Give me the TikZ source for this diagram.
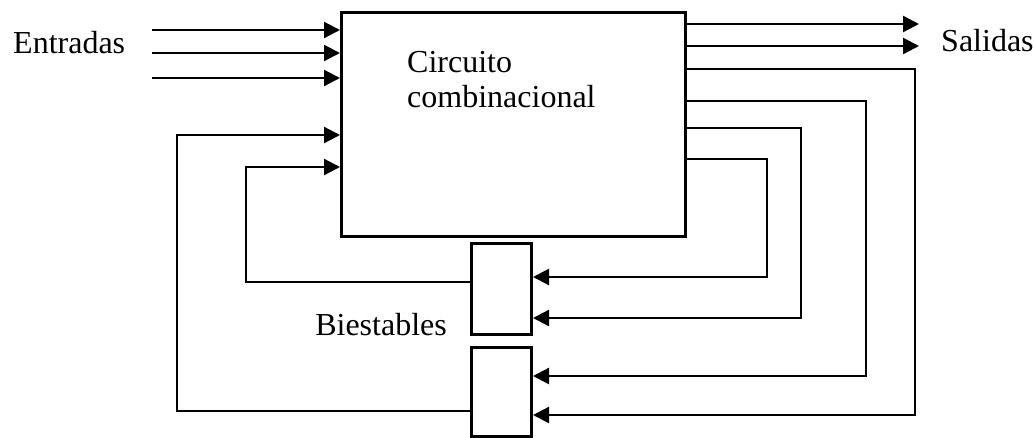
\documentclass[tikz,border=0pt]{standalone}
\usepackage{fontspec}
\setmainfont{Liberation Serif}
\usetikzlibrary{arrows.meta}
\begin{document}
\begin{tikzpicture}[x=1pt,y=-1pt,
  blk/.style={draw, line width=3pt, inner sep=0pt, anchor=north west},
  arr/.style={line width=2.3pt, -{Triangle[length=16pt,width=16pt]}},
  lbl/.style={inner sep=0pt, font=\fontsize{32}{35}\selectfont}]
\useasboundingbox (0,0) rectangle (1035,437);
% blocks
\node[blk, minimum width=344pt, minimum height=224pt] (main) at (340,11) {};
\node[blk, minimum width=60pt, minimum height=91pt] (b1) at (470,242) {};
\node[blk, minimum width=60pt, minimum height=89pt] (b2) at (470,346) {};
% labels
\node[lbl, anchor=base west] (ent) at (13,53) {Entradas};
\node[lbl, anchor=base west] (sal) at (941,51) {Salidas};
\node[lbl, anchor=base west] (cc1) at (407,72) {Circuito};
\node[lbl, anchor=base west] (cc2) at (407,107) {combinacional};
\node[lbl, anchor=base east] (bie) at (447,335) {Biestables};
% inputs
\coordinate (i1) at (152,30);
\coordinate (i2) at (152,53);
\coordinate (i3) at (152,78);
\draw[arr] (i1) -- (main.west |- i1);
\draw[arr] (i2) -- (main.west |- i2);
\draw[arr] (i3) -- (main.west |- i3);
% outputs
\coordinate (o1) at (919,24);
\coordinate (o2) at (919,46);
\draw[arr] (main.east |- o1) -- (o1);
\draw[arr] (main.east |- o2) -- (o2);
% state outputs to flip-flops
\coordinate (r1) at (915,69);  \coordinate (r1b) at (915,415);
\coordinate (r2) at (866,101); \coordinate (r2b) at (866,376);
\coordinate (r3) at (801,128); \coordinate (r3b) at (801,318);
\coordinate (r4) at (767,159); \coordinate (r4b) at (767,277);
\draw[arr] (main.east |- r1) -- (r1) -- (r1b) -- (b2.east |- r1b);
\draw[arr] (main.east |- r2) -- (r2) -- (r2b) -- (b2.east |- r2b);
\draw[arr] (main.east |- r3) -- (r3) -- (r3b) -- (b1.east |- r3b);
\draw[arr] (main.east |- r4) -- (r4) -- (r4b) -- (b1.east |- r4b);
% feedback from flip-flops
\coordinate (f1) at (246,282); \coordinate (f1t) at (246,167);
\coordinate (f2) at (177,411); \coordinate (f2t) at (177,135);
\draw[arr] (b1.west |- f1) -- (f1) -- (f1t) -- (main.west |- f1t);
\draw[arr] (b2.west |- f2) -- (f2) -- (f2t) -- (main.west |- f2t);
\end{tikzpicture}
\end{document}
